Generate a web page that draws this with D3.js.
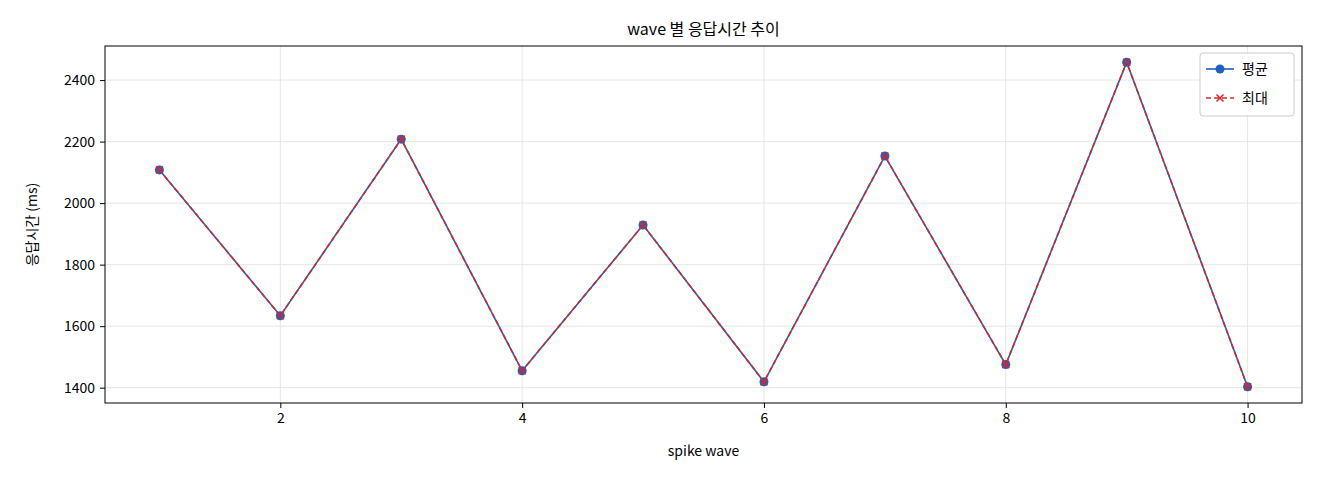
<!DOCTYPE html>
<html><head><meta charset="utf-8">
<script src="https://cdn.jsdelivr.net/npm/d3@7"></script>
<style>body{margin:0;background:#fff;font-family:"Noto Sans CJK KR","DejaVu Sans",sans-serif}</style>
</head><body><svg id="c" width="1320" height="480"></svg>
<script>
const waves=[1,2,3,4,5,6,7,8,9,10];
const avgMs=[2108,1634,2208,1455,1929,1419,2153,1475,2458,1403];
const maxMs=[2108,1634,2208,1455,1929,1419,2153,1475,2458,1403];
const xTicks=[2,4,6,8,10];
const yTicks=[1400,1600,1800,2000,2200,2400];
const L=105,R=1302,T=46,B=403;
const svg=d3.select("#c");
const x=d3.scaleLinear().domain([0.55,10.45]).range([L,R]);
const y=d3.scaleLinear().domain([1350.25,2510.75]).range([B,T]);
const g=svg.append("g");
g.selectAll(".gx").data(xTicks).join("line").attr("x1",d=>x(d)).attr("x2",d=>x(d)).attr("y1",T).attr("y2",B).attr("stroke","#e6e6e6");
g.selectAll(".gy").data(yTicks).join("line").attr("y1",d=>y(d)).attr("y2",d=>y(d)).attr("x1",L).attr("x2",R).attr("stroke","#e6e6e6");
const ax=svg.append("g").attr("transform",`translate(0,${B})`).call(d3.axisBottom(x).tickValues(xTicks).tickFormat(d3.format("d")).tickSize(5).tickPadding(5));
const ay=svg.append("g").attr("transform",`translate(${L},0)`).call(d3.axisLeft(y).tickValues(yTicks).tickFormat(d3.format("d")).tickSize(5).tickPadding(5));
[ax,ay].forEach(a=>{a.select(".domain").remove();a.attr("font-size",null).attr("font-family",null);a.selectAll("text").style("font-size","14px").attr("fill","#000").style("font-family","'Noto Sans CJK KR',sans-serif");a.selectAll("line").attr("stroke","#000");});
svg.append("rect").attr("x",L).attr("y",T).attr("width",R-L).attr("height",B-T).attr("fill","none").attr("stroke","#000");
const line=d3.line().x((d,i)=>x(waves[i])).y(d=>y(d));
svg.append("path").datum(avgMs).attr("d",line).attr("fill","none").attr("stroke","#1f5fbf").attr("stroke-width",1.6);
svg.selectAll(".pt").data(avgMs).join("circle").attr("cx",(d,i)=>x(waves[i])).attr("cy",d=>y(d)).attr("r",4.5).attr("fill","#1f5fbf");
svg.append("path").datum(maxMs).attr("d",line).attr("fill","none").attr("stroke","#d62728").attr("stroke-width",1.6).attr("stroke-dasharray","5,3");
const xm=(cx,cy)=>`M${cx-3.5},${cy-3.5}L${cx+3.5},${cy+3.5}M${cx-3.5},${cy+3.5}L${cx+3.5},${cy-3.5}`;
svg.selectAll(".xm").data(maxMs).join("path").attr("d",(d,i)=>xm(x(waves[i]),y(d))).attr("stroke","#d62728").attr("stroke-width",1.5);
svg.append("text").attr("x",(L+R)/2).attr("y",35).attr("text-anchor","middle").attr("font-size",16).text("wave 별 응답시간 추이");
svg.append("text").attr("x",(L+R)/2).attr("y",456).attr("text-anchor","middle").attr("font-size",14).text("spike wave");
svg.append("text").attr("transform",`translate(37,${(T+B)/2}) rotate(-90)`).attr("text-anchor","middle").attr("font-size",14).text("응답시간 (ms)");
const lg=svg.append("g");
lg.append("rect").attr("x",1200).attr("y",53).attr("width",94).attr("height",63).attr("rx",3).attr("fill","#fff").attr("stroke","#ccc");
lg.append("line").attr("x1",1206).attr("x2",1234).attr("y1",69).attr("y2",69).attr("stroke","#1f5fbf").attr("stroke-width",1.6);
lg.append("circle").attr("cx",1220).attr("cy",69).attr("r",4.5).attr("fill","#1f5fbf");
lg.append("line").attr("x1",1206).attr("x2",1234).attr("y1",98).attr("y2",98).attr("stroke","#d62728").attr("stroke-width",1.6).attr("stroke-dasharray","5,3");
lg.append("path").attr("d",xm(1220,98)).attr("stroke","#d62728").attr("stroke-width",1.5);
lg.append("text").attr("x",1242).attr("y",74).attr("font-size",14).text("평균");
lg.append("text").attr("x",1242).attr("y",103).attr("font-size",14).text("최대");
</script></body></html>
